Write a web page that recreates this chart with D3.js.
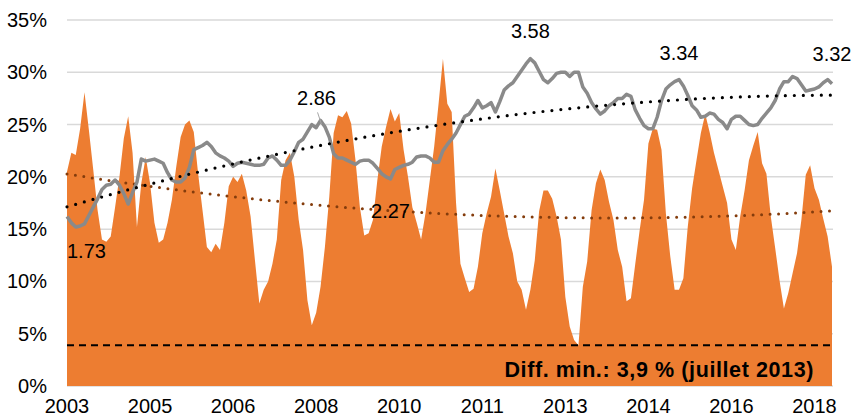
<!DOCTYPE html>
<html>
<head>
<meta charset="utf-8">
<script src="https://cdn.jsdelivr.net/npm/d3@7"></script>
<style>
  body { margin: 0; background: #fff; }
  text { font-family: "Liberation Sans", Arial, sans-serif; }
</style>
</head>
<body>
<svg id="chart" width="855" height="417"></svg>
<script>
// monthly series, starting October 2003
const firstMonth = new Date(2003, 9, 1);

// orange area: difference in %
const diffValues = [
  20.5, 22.3, 22.1, 24.6, 28.1, 24.5, 20.7, 16.8, 14.0, 13.8,
  14.3, 17.1, 20.0, 23.7, 25.8, 22.3, 15.2, 19.4, 21.9, 19.4,
  15.6, 13.7, 14.0, 15.6, 17.8, 21.0, 23.8, 25.0, 25.4, 24.3,
  20.3, 16.8, 13.3, 12.8, 13.6, 13.0, 15.6, 19.1, 20.0, 19.5,
  20.3, 18.7, 16.2, 12.0, 7.9, 9.2, 10.0, 11.7, 14.0, 19.7,
  21.6, 22.3, 20.0, 15.9, 13.0, 8.2, 5.8, 7.0, 9.5, 13.3,
  18.1, 24.2, 25.9, 25.7, 26.3, 25.1, 21.6, 17.1, 14.4, 14.6,
  15.9, 19.7, 22.9, 24.8, 26.5, 25.3, 26.1, 22.6, 20.0, 17.1,
  15.6, 14.0, 16.5, 19.7, 22.9, 27.0, 31.3, 27.0, 26.2, 17.5,
  11.7, 10.3, 9.0, 9.3, 11.4, 14.6, 16.5, 18.1, 20.8, 18.7,
  16.5, 14.3, 12.7, 10.0, 9.2, 7.3, 9.2, 12.0, 16.7, 18.7,
  18.7, 17.9, 16.2, 14.0, 8.5, 5.7, 4.4, 3.9, 9.5, 11.9,
  16.8, 19.4, 20.7, 19.7, 17.6, 15.9, 13.0, 11.4, 8.1, 8.4,
  11.7, 14.9, 17.8, 23.2, 24.6, 24.5, 22.6, 16.5, 12.4, 9.2,
  9.2, 10.3, 15.2, 18.9, 21.6, 24.2, 26.0, 24.3, 22.3, 20.7,
  19.1, 17.5, 14.0, 13.0, 16.2, 18.7, 21.6, 23.0, 24.3, 21.3,
  20.3, 16.2, 13.2, 10.1, 7.4, 8.9, 10.8, 12.7, 15.9, 20.2,
  21.1, 18.9, 17.8, 16.0, 14.3, 11.4
];

// grey line
const greyValues = [
  16.2, 15.6, 15.2, 15.3, 15.5, 16.3, 17.1, 17.9, 18.8, 19.2,
  19.3, 19.7, 19.2, 18.4, 17.4, 18.5, 19.5, 21.7, 21.5, 21.6,
  21.7, 21.5, 21.3, 20.4, 19.7, 19.5, 19.5, 19.9, 20.9, 22.6,
  22.8, 23.0, 23.3, 22.9, 22.3, 22.0, 21.8, 21.5, 21.0, 21.3,
  21.4, 21.3, 21.2, 21.1, 21.1, 21.2, 21.8, 22.0, 21.6, 21.1,
  21.1, 21.6, 22.4, 23.3, 23.6, 24.3, 25.0, 24.7, 25.4, 24.8,
  23.8, 22.2, 21.8, 21.8, 21.6, 21.4, 21.2, 21.5, 21.6, 21.6,
  21.3, 20.8, 20.3, 20.0, 19.8, 20.7, 20.9, 21.1, 21.2, 21.4,
  21.9, 22.0, 22.0, 21.8, 21.4, 21.4, 22.5, 23.1, 23.6, 24.2,
  25.0, 25.8, 26.0, 26.6, 27.3, 26.6, 26.8, 27.1, 26.2, 27.2,
  28.3, 28.7, 29.0, 29.6, 30.2, 30.8, 31.3, 30.9, 30.1, 29.3,
  29.0, 29.4, 29.9, 30.0, 30.0, 29.6, 30.0, 30.0, 28.6, 28.0,
  27.1, 26.5, 26.0, 26.3, 26.8, 27.1, 27.5, 27.5, 27.9, 27.7,
  26.4, 25.6, 24.9, 24.6, 24.6, 25.7, 27.3, 28.4, 28.8, 29.1,
  29.3, 28.7, 27.8, 26.8, 26.4, 25.7, 25.8, 26.1, 26.0, 25.5,
  25.2, 24.6, 25.5, 25.8, 25.8, 25.4, 25.0, 24.9, 25.0, 25.6,
  26.1, 26.6, 27.3, 28.4, 29.1, 29.1, 29.6, 29.4, 28.8, 28.2,
  28.3, 28.4, 28.6, 29.0, 29.3, 28.9
];

const yTicks = [0, 5, 10, 15, 20, 25, 30, 35];
const labelStep = 19; // one x label every 19 months

// annotations on the grey line
const noteIndex = [0, 58, 106, 140, 175];
const noteText = ["1.73", "2.86", "3.58", "3.34", "3.32"];
const trendNoteIndex = 74;
const trendNoteText = "2.27";

const moisFr = ["janvier", "février", "mars", "avril", "mai", "juin",
  "juillet", "août", "septembre", "octobre", "novembre", "décembre"];

const months = diffValues.map((d, i) => d3.timeMonth.offset(firstMonth, i));
const idx = d3.range(diffValues.length);

const svg = d3.select("#chart");

const x = d3.scalePoint().domain(idx).range([67, 832]);
const y = d3.scaleLinear().domain([0, 35]).range([386, 20]);

// least squares polynomial, x rescaled to 0..1
function polyFit(vals, deg) {
  const n = vals.length, m = deg + 1;
  const A = d3.range(m).map(() => new Array(m + 1).fill(0));
  vals.forEach((v, i) => {
    const t = i / (n - 1);
    for (let r = 0; r < m; r++) {
      for (let c = 0; c < m; c++) A[r][c] += Math.pow(t, r + c);
      A[r][m] += v * Math.pow(t, r);
    }
  });
  for (let p = 0; p < m; p++) {
    for (let r = p + 1; r < m; r++) {
      const f = A[r][p] / A[p][p];
      for (let c = p; c <= m; c++) A[r][c] -= f * A[p][c];
    }
  }
  const coef = new Array(m).fill(0);
  for (let r = m - 1; r >= 0; r--) {
    let s = A[r][m];
    for (let c = r + 1; c < m; c++) s -= A[r][c] * coef[c];
    coef[r] = s / A[r][r];
  }
  return vals.map((v, i) => {
    const t = i / (n - 1);
    return coef.reduce((acc, k, j) => acc + k * Math.pow(t, j), 0);
  });
}

// both trends are order 2 polynomials
const greyTrend = polyFit(greyValues, 2);
const diffTrend = polyFit(diffValues, 2);

// gridlines
svg.append("g")
  .selectAll("line")
  .data(yTicks)
  .enter().append("line")
  .attr("x1", 67).attr("x2", 833)
  .attr("y1", d => y(d)).attr("y2", d => y(d))
  .attr("stroke", "#d9d9d9")
  .attr("stroke-width", 1.5);

// y labels
svg.append("g")
  .selectAll("text")
  .data(yTicks)
  .enter().append("text")
  .attr("x", 47)
  .attr("y", d => y(d) + 7)
  .attr("text-anchor", "end")
  .attr("font-size", "20px")
  .attr("fill", "#000")
  .text(d => d + "%");

// orange area
svg.append("path")
  .datum(diffValues)
  .attr("fill", "#ed7d31")
  .attr("d", d3.area()
    .x((d, i) => x(i))
    .y0(y(0))
    .y1(d => y(d)));

// x labels
const fmtYear = d3.timeFormat("%Y");
svg.append("g")
  .selectAll("text")
  .data(idx.filter(i => i % labelStep === 0))
  .enter().append("text")
  .attr("x", i => x(i))
  .attr("y", 413)
  .attr("text-anchor", "middle")
  .attr("font-size", "20px")
  .text(i => fmtYear(months[i]));

// trend lines (dotted)
const line = d3.line().x((d, i) => x(i)).y(d => y(d));
svg.append("path")
  .datum(diffTrend)
  .attr("fill", "none")
  .attr("stroke", "#843c0c")
  .attr("stroke-width", 3)
  .attr("stroke-linecap", "round")
  .attr("stroke-dasharray", "0,8.5")
  .attr("d", line);

// grey line
svg.append("path")
  .datum(greyValues)
  .attr("fill", "none")
  .attr("stroke", "#8a8a8a")
  .attr("stroke-width", 3.5)
  .attr("stroke-linejoin", "round")
  .attr("d", line);

svg.append("path")
  .datum(greyTrend)
  .attr("fill", "none")
  .attr("stroke", "#000")
  .attr("stroke-width", 3.2)
  .attr("stroke-linecap", "round")
  .attr("stroke-dasharray", "0,9")
  .attr("d", line);

// minimum difference
const minVal = d3.min(diffValues);
const minIdx = diffValues.indexOf(minVal);
svg.append("line")
  .attr("x1", 67).attr("x2", 833)
  .attr("y1", y(minVal)).attr("y2", y(minVal))
  .attr("stroke", "#000")
  .attr("stroke-width", 2)
  .attr("stroke-dasharray", "7,5");

const minDate = months[minIdx];
svg.append("text")
  .attr("x", 814)
  .attr("y", 377)
  .attr("text-anchor", "end")
  .attr("font-size", "21.5px")
  .attr("font-weight", "bold")
  .attr("letter-spacing", "0.6px")
  .text("Diff. min.: " + minVal.toFixed(1).replace(".", ",") + " % (" +
        moisFr[minDate.getMonth()] + " " + minDate.getFullYear() + ")");

// notes on grey line
// leader line for 2.86
svg.append("line")
  .attr("x1", x(noteIndex[1]) - 3).attr("y1", y(greyValues[noteIndex[1]]) - 8)
  .attr("x2", x(noteIndex[1]) + 1).attr("y2", y(greyValues[noteIndex[1]]) + 4)
  .attr("stroke", "#a6a6a6")
  .attr("stroke-width", 1);

const noteDx = [0, -4, 0, 0, 0];
const noteDy = [41, -15, -21, -20, -23];
svg.append("g")
  .selectAll("text")
  .data(noteIndex)
  .enter().append("text")
  .attr("x", (d, k) => x(d) + noteDx[k])
  .attr("y", (d, k) => y(greyValues[d]) + noteDy[k])
  .attr("text-anchor", (d, k) => k === 0 ? "start" : "middle")
  .attr("font-size", "20px")
  .text((d, k) => noteText[k]);

svg.append("text")
  .attr("x", x(trendNoteIndex))
  .attr("y", y(diffTrend[trendNoteIndex]) + 7)
  .attr("text-anchor", "middle")
  .attr("font-size", "20px")
  .text(trendNoteText);
</script>
</body>
</html>
